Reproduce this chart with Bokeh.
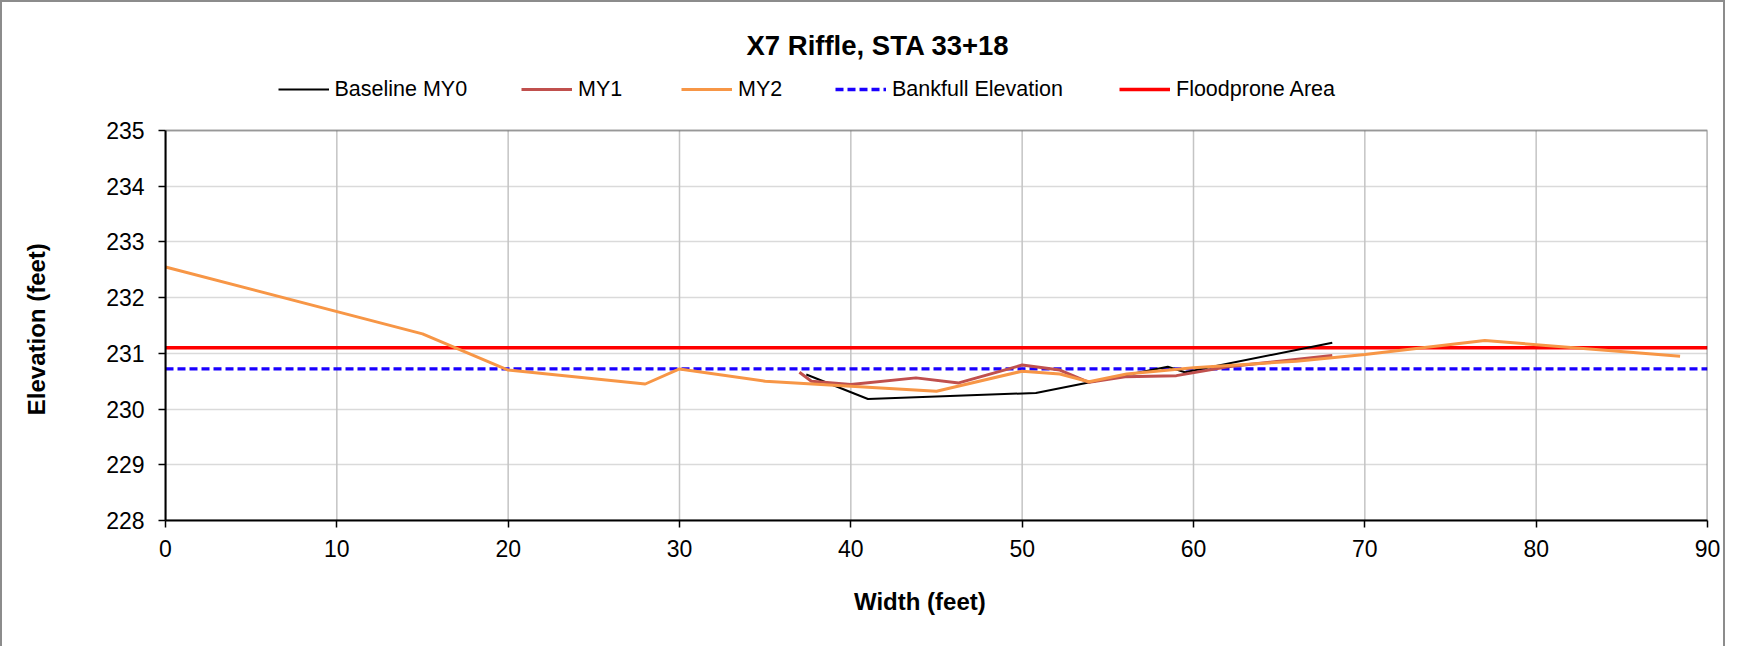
from bokeh.plotting import figure
from bokeh.models import Legend, LegendItem, Label, Range1d, FixedTicker, ColumnDataSource, BoxAnnotation
from bokeh.embed import file_html
from bokeh.resources import INLINE

# ---- data ----
title_text = "X7 Riffle, STA 33+18"
x_label = "Width (feet)"
y_label = "Elevation (feet)"
x_ticks = [0, 10, 20, 30, 40, 50, 60, 70, 80, 90]
y_ticks = [228, 229, 230, 231, 232, 233, 234, 235]

my0_x = [37.4, 41.0, 50.8, 58.5, 59.5, 68.1]
my0_y = [230.62, 230.18, 230.29, 230.76, 230.66, 231.19]

my1_x = [37.0, 37.7, 40.0, 43.8, 46.3, 50.0, 52.2, 53.9, 56.0, 59.0, 62.0, 68.1]
my1_y = [230.66, 230.50, 230.44, 230.56, 230.47, 230.79, 230.70, 230.48, 230.58, 230.60, 230.76, 230.96]

my2_x = [0, 15, 20, 28, 30, 35, 45, 50, 52.2, 53.9, 56.1, 60, 66, 70, 77, 88.4]
my2_y = [232.55, 231.35, 230.70, 230.45, 230.72, 230.50, 230.32, 230.68, 230.63, 230.49, 230.63,
         230.74, 230.86, 230.98, 231.23, 230.95]

bankfull_x = [0, 90]
bankfull_y = [230.72, 230.72]

floodprone_x = [0, 90]
floodprone_y = [231.1, 231.1]

FONT = "Liberation Sans"
NBSP = "\u00a0"

# layout geometry (pixels): frame spans the whole upper area so that the
# title and legend (drawn inside the frame) are not clipped
x_lo, x_hi = x_ticks[0], x_ticks[-1]
y_lo, y_hi = y_ticks[0], y_ticks[-1]
frame_top_px, axis_top_px, axis_bottom_px = 24, 130, 520
px_per_unit = (axis_bottom_px - axis_top_px) / (y_hi - y_lo)
y_top = y_hi + (axis_top_px - frame_top_px) / px_per_unit

p = figure(width=1725, height=646,
           x_range=Range1d(x_lo, x_hi), y_range=Range1d(y_lo, y_top),
           output_backend="svg", toolbar_location=None,
           min_border_left=163, min_border_right=20,
           min_border_top=22, min_border_bottom=128,
           styles={"border-left": "2px solid #8c8c8c",
                   "border-top": "2px solid #8c8c8c",
                   "border-right": "2px solid #8c8c8c"})

p.background_fill_color = "white"
p.border_fill_color = "white"
p.outline_line_color = None

# grid
p.xgrid.visible = False
p.ygrid.grid_line_color = "#dadada"
p.ygrid.grid_line_width = 1.5
p.ygrid.ticker = FixedTicker(ticks=y_ticks)
grid_src = ColumnDataSource(dict(x=x_ticks, y0=[y_lo] * len(x_ticks), y1=[y_hi] * len(x_ticks)))
p.segment(x0="x", y0="y0", x1="x", y1="y1", source=grid_src,
          line_color="#c4c4c4", line_width=1.5)

# plot-area box
p.add_layout(BoxAnnotation(left=x_lo, right=x_hi, bottom=y_lo, top=y_hi,
                           fill_alpha=0, line_color="black", line_width=2))

# axes
p.xaxis.ticker = FixedTicker(ticks=x_ticks)
p.yaxis.ticker = FixedTicker(ticks=y_ticks)
p.yaxis.bounds = (y_lo, y_hi)
for ax in (p.xaxis[0], p.yaxis[0]):
    ax.axis_line_color = "black"
    ax.axis_line_width = 2
    ax.major_tick_line_color = "black"
    ax.major_tick_line_width = 1.5
    ax.major_tick_out = 7
    ax.major_tick_in = 0
    ax.minor_tick_line_color = None
    ax.major_label_text_font = FONT
    ax.major_label_text_font_size = "23px"
    ax.major_label_text_color = "black"
    ax.axis_label_text_font = FONT
    ax.axis_label_text_font_size = "24px"
    ax.axis_label_text_font_style = "bold"
    ax.axis_label_text_color = "black"

# trailing no-break spaces shift the centred labels to the reference's position
p.xaxis.axis_label = x_label + NBSP * 5
p.yaxis.axis_label = y_label + NBSP * 17
p.xaxis.major_label_standoff = 12
p.yaxis.major_label_standoff = 14
p.xaxis.axis_label_standoff = 28
p.yaxis.axis_label_standoff = 53

# series
src0 = ColumnDataSource(dict(x=my0_x, y=my0_y))
src1 = ColumnDataSource(dict(x=my1_x, y=my1_y))
src2 = ColumnDataSource(dict(x=my2_x, y=my2_y))
srcb = ColumnDataSource(dict(x=bankfull_x, y=bankfull_y))
srcf = ColumnDataSource(dict(x=floodprone_x, y=floodprone_y))

r_flood = p.line("x", "y", source=srcf, line_color="#ff0000", line_width=3.5)
r_bank = p.line("x", "y", source=srcb, line_color="#1a00ff", line_width=3.3, line_dash="8 4")
r0 = p.line("x", "y", source=src0, line_color="black", line_width=2)
r1 = p.line("x", "y", source=src1, line_color="#c0504d", line_width=3)
r2 = p.line("x", "y", source=src2, line_color="#f79646", line_width=3)

# legend: one block per entry, placed above the plot box (inside the frame)
entries = [("Baseline MY0", r0, 112.5), ("MY1", r1, 356), ("MY2", r2, 516),
           ("Bankfull Elevation", r_bank, 670), ("Floodprone Area", r_flood, 954)]
legend_y = (axis_bottom_px - 89.3) - 13
for label, r, xpos in entries:
    leg = Legend(items=[LegendItem(label=label, renderers=[r])],
                 location=(xpos, legend_y), orientation="horizontal",
                 padding=0, margin=0, spacing=0,
                 border_line_alpha=0, background_fill_alpha=0,
                 glyph_width=51, glyph_height=26, label_height=26,
                 label_standoff=6, label_text_font=FONT,
                 label_text_font_size="21.5px", label_text_color="black")
    p.add_layout(leg)

# title
p.add_layout(Label(x=581, y=axis_bottom_px - 45.2, x_units="screen", y_units="screen",
                   text=title_text, text_align="left", text_baseline="alphabetic",
                   text_font=FONT, text_font_size="27.5px", text_font_style="bold",
                   text_color="black"))

open("out.html", "w").write(file_html(p, INLINE))
